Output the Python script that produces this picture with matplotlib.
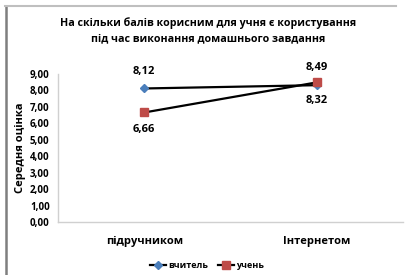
import matplotlib.pyplot as plt
from matplotlib.lines import Line2D

categories = ['підручником', 'Інтернетом']
teacher = [8.12, 8.32]
student = [6.66, 8.49]
yticks = [0, 1, 2, 3, 4, 5, 6, 7, 8, 9]

plt.rcParams['font.family'] = ['Open Sans', 'DejaVu Sans']

fig = plt.figure(figsize=(4.07, 2.75), dpi=100)
ax = fig.add_axes([58/407, 1 - 222/275, 345/407, 148/275])

x = list(range(len(categories)))
ax.plot(x, teacher, color='black', lw=1.6, marker='D', ms=4.5,
        mfc='#4a7ebb', mec='#4a7ebb', label='вчитель', zorder=3)
ax.plot(x, student, color='black', lw=1.6, marker='s', ms=6,
        mfc='#be4b48', mec='#be4b48', label='учень', zorder=3)

ax.set_xlim(-0.5, 1.5)
ax.set_ylim(0, 9)
ax.set_yticks(yticks)
ax.set_yticklabels(['%d,00' % v for v in yticks], fontsize=7, fontweight='bold')
ax.set_xticks(x)
ax.set_xticklabels(categories, fontsize=8, fontweight='bold')
ax.tick_params(axis='both', length=0)
ax.tick_params(axis='x', pad=10)
ax.tick_params(axis='y', pad=6)

for s in ['top', 'right']:
    ax.spines[s].set_visible(False)
for s in ['left', 'bottom']:
    ax.spines[s].set_color('#d0d0d0')
    ax.spines[s].set_linewidth(1)

# підписи значень
ax.annotate('8,12', (0, teacher[0]), xytext=(0, 8), textcoords='offset points',
            ha='center', va='bottom', fontsize=8, fontweight='bold')
ax.annotate('6,66', (0, student[0]), xytext=(0, -8), textcoords='offset points',
            ha='center', va='top', fontsize=8, fontweight='bold')
ax.annotate('8,49', (1, student[1]), xytext=(0, 7), textcoords='offset points',
            ha='center', va='bottom', fontsize=8, fontweight='bold')
ax.annotate('8,32', (1, teacher[1]), xytext=(0, -7), textcoords='offset points',
            ha='center', va='top', fontsize=8, fontweight='bold')

ax.set_ylabel('Середня оцінка', fontsize=8, fontweight='bold', labelpad=3)

fig.text(208/407, 1 - 31/275,
         'На скільки балів корисним для учня є користування\nпід час виконання домашнього завдання',
         ha='center', va='center', fontsize=7.7, fontweight='bold', linespacing=1.55)

ax.legend(loc='center', bbox_to_anchor=(207/407, 1 - 266/275),
          bbox_transform=fig.transFigure, ncol=2, frameon=False,
          handlelength=1.8, columnspacing=1.0, handletextpad=0.3,
          prop={'weight': 'bold', 'size': 6.5})

# рамка
fig.add_artist(Line2D([5.5/407, 5.5/407], [0, 1 - 6/275], color='#7f7f7f', lw=1.8))
fig.add_artist(Line2D([5/407, 396/407], [1 - 6/275, 1 - 6/275], color='#bfbfbf', lw=1.5))

fig.savefig('out.png', dpi=100)
